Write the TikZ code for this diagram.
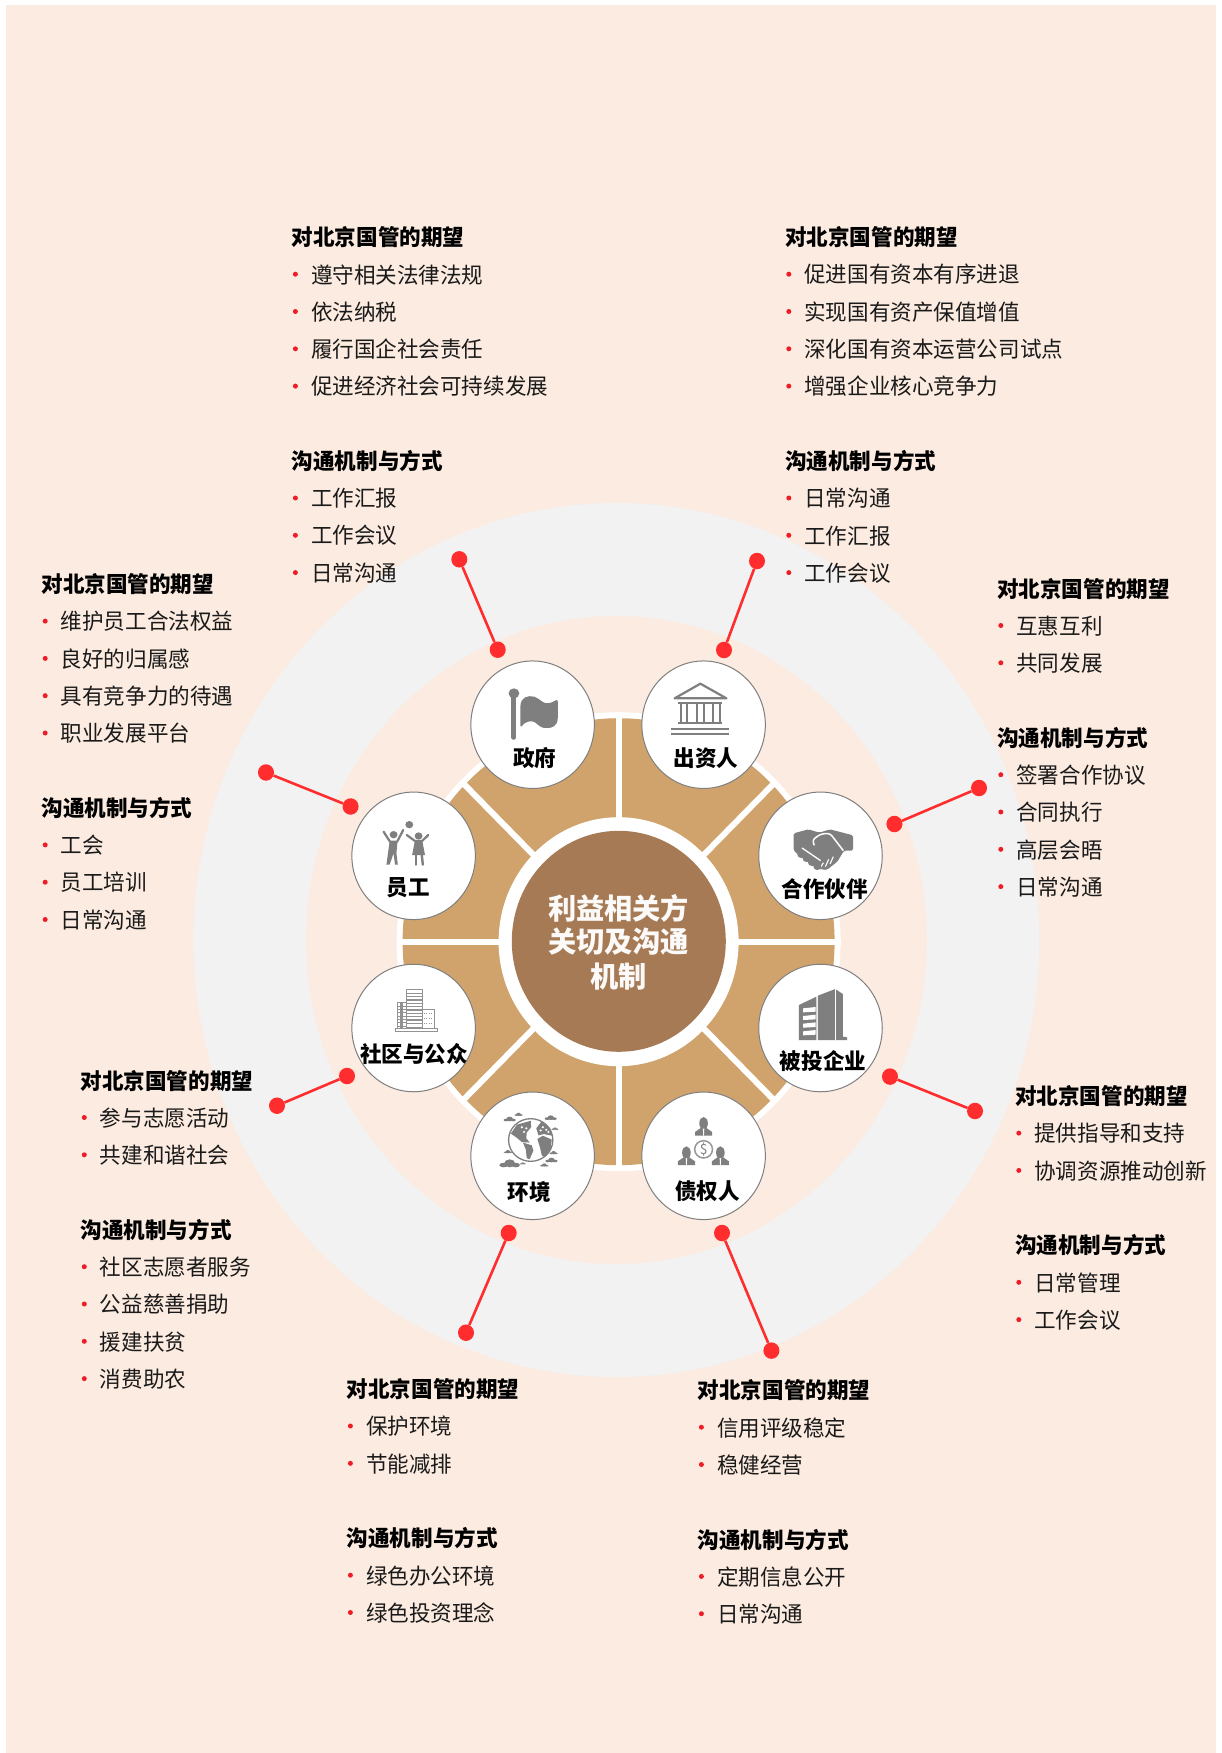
\documentclass[tikz,border=0pt]{standalone}
\usepackage{fontspec}
\setmainfont[FakeStretch=0.98]{Noto Sans CJK SC}
\usetikzlibrary{shapes.geometric}
\definecolor{bgc}{HTML}{FCEBE0}
\definecolor{ringc}{HTML}{F2F2F2}
\definecolor{brownc}{HTML}{A57A55}
\definecolor{tanc}{HTML}{D0A36C}
\definecolor{redc}{HTML}{FF2D2D}
\definecolor{iconc}{HTML}{7F7F7F}
\definecolor{bulc}{HTML}{EE1C25}
\definecolor{itemc}{HTML}{1A1A1A}
\tikzset{
  headtxt/.style={anchor=west,inner sep=0pt,font=\fontsize{22}{24}\selectfont\bfseries,text=black},
  itemtxt/.style={anchor=west,inner sep=0pt,font=\fontsize{22}{24}\selectfont,text=itemc},
  bul/.style={circle,fill=bulc,inner sep=0pt,minimum size=5pt},
  stake/.style={ellipse,draw=iconc,line width=1pt,fill=white,inner sep=0pt,minimum width=123.5pt,minimum height=127.5pt},
  stlabel/.style={inner sep=0pt,font=\fontsize{22}{24}\selectfont\bfseries,text=black},
  pin/.style={ellipse,fill=redc,inner sep=0pt,minimum width=16pt,minimum height=16.5pt},
  lead/.style={draw=redc,line width=2.6pt},
  divider/.style={draw=white,line width=6pt},
  ztop/.style={shift={(330pt,-640pt)},x=.35714pt,y=-.33333pt},
  zbot/.style={shift={(330pt,-930pt)},x=.35714pt,y=-.33333pt},
  ico/.style={fill=iconc,draw=none},
  icol/.style={draw=iconc,line cap=round,line join=round},
}
\newcounter{ln}
\newcommand\setblk[2]{\gdef\bx{#1}\gdef\by{#2}}
\newcommand\advy{\pgfmathparse{\by+37.3}\xdef\by{\pgfmathresult}}
\newcommand\hd[1]{\stepcounter{ln}\node[headtxt] (t\arabic{ln}) at (\bx,\by+0.6) {#1};\advy}
\newcommand\itm[1]{\stepcounter{ln}\node[bul] (b\arabic{ln}) at (\bx+3.8,\by+0.2) {};\node[itemtxt] (t\arabic{ln}) at (\bx+19.2,\by+0.6) {#1};\advy}
\begin{document}
\begin{tikzpicture}[x=1pt,y=-1pt]
\useasboundingbox (0,0) rectangle (1222,1753);
\fill[white] (0,0) rectangle (1222,1753);
\fill[bgc] (6,5.5) rectangle (1216,1753);
% ring
\fill[ringc] (616.4,940) ellipse [x radius=423,y radius=437];
\fill[bgc] (616.4,940) ellipse [x radius=310.5,y radius=324];
% disc
\fill[white] (618.6,941.7) ellipse [x radius=222,y radius=229.5];
\fill[tanc] (618.6,941.7) ellipse [x radius=216,y radius=223.5];
\coordinate (cc) at (618.6,941.7);
\foreach \dx/\dy in {0/-229,0/229,222/0,-222/0,155/-158,-155/-158,155/158,-155/158}
  \draw[divider] (cc) -- ++(\dx,\dy);
\node[ellipse,fill=white,inner sep=0pt,minimum width=240pt,minimum height=249pt] (hub0) at (618.6,941.7) {};
\node[ellipse,fill=brownc,inner sep=0pt,minimum width=214pt,minimum height=221pt] (hub) at (618.8,941.3) {};
\node[inner sep=0pt,font=\fontsize{28.8}{30}\selectfont\bfseries,text=white!96!brownc] (h1) at (618.6,908.5) {利益相关方};
\node[inner sep=0pt,font=\fontsize{28.8}{30}\selectfont\bfseries,text=white!96!brownc] (h2) at (618.6,942) {关切及沟通};
\node[inner sep=0pt,font=\fontsize{28.8}{30}\selectfont\bfseries,text=white!96!brownc] (h3) at (618.6,976.5) {机制};
% pins & leads
\node[pin] (p1a) at (497.7,649.7) {}; \node[pin] (p1b) at (459.3,559.3) {};
\node[pin] (p2a) at (724,650) {};     \node[pin] (p2b) at (757,561) {};
\node[pin] (p3a) at (894.4,824) {};   \node[pin] (p3b) at (979,788) {};
\node[pin] (p4a) at (350.6,806.5) {}; \node[pin] (p4b) at (266,772.5) {};
\node[pin] (p5a) at (347,1076) {};    \node[pin] (p5b) at (277,1105.7) {};
\node[pin] (p6a) at (890,1076.6) {};  \node[pin] (p6b) at (975,1111) {};
\node[pin] (p7a) at (508.7,1233) {};  \node[pin] (p7b) at (466,1332.7) {};
\node[pin] (p8a) at (722,1233) {};    \node[pin] (p8b) at (771.4,1350.6) {};
\foreach \i in {1,...,8} \draw[lead] (p\i a) -- (p\i b);
% stakeholders
\node[stake] (s1) at (532.6,724.7) {};
\node[stake] (s2) at (703.6,724.7) {};
\node[stake] (s3) at (820.5,855.8) {};
\node[stake] (s4) at (413.6,855.8) {};
\node[stake] (s5) at (413.6,1028) {};
\node[stake] (s6) at (820.5,1028) {};
\node[stake] (s7) at (532.6,1155.8) {};
\node[stake] (s8) at (703.6,1155.8) {};
\node[stlabel] (l1) at (534.6,758) {政府};
\node[stlabel] (l2) at (706,758) {出资人};
\node[stlabel] (l3) at (824.6,889) {合作伙伴};
\node[stlabel] (l4) at (408,887.4) {员工};
\node[stlabel] (l5) at (414,1054) {社区与公众};
\node[stlabel] (l6) at (823,1060.7) {被投企业};
\node[stlabel] (l7) at (529.3,1192.4) {环境};
\node[stlabel] (l8) at (707.5,1190.7) {债权人};
% --- icons, traced in crop coordinates
\begin{scope}[ztop]
 % flag
 \draw[icol,line width=5pt] (515,170) -- (515,292);
 \fill[ico] (515,160) ellipse [x radius=15,y radius=15];
 \fill[ico,rounded corners=3pt] (533,190) .. controls (545,165) and (570,165) .. (590,182) .. controls (605,192) and (620,190) .. (638,176)
   -- (638,240) .. controls (630,265) and (600,270) .. (580,252) .. controls (565,240) and (545,245) .. (533,265) -- cycle;
 % temple
 \draw[icol,line width=2.2pt] (965,175) -- (1037,131) -- (1110,175) -- cycle;
 \draw[iconc,line width=2.2pt] (975,188) -- (1098,188);
 \draw[iconc,line width=2.2pt] (975,250) -- (1098,250);
 \draw[iconc,line width=2.2pt] (955,267) -- (1118,267);
 \draw[iconc,line width=2.2pt] (955,282) -- (1118,282);
 \foreach \c in {991,1037,1082} {
   \draw[iconc,line width=2pt] (\c-9,190) -- (\c-9,248);
   \draw[iconc,line width=2pt] (\c+9,190) -- (\c+9,248);
 }
 % people
 \fill[ico] (178,584) ellipse [x radius=11,y radius=11];
 \fill[ico] (222,554) ellipse [x radius=11,y radius=11];
 \fill[ico] (248,588) ellipse [x radius=11,y radius=11];
 \draw[icol,line width=2.2pt] (150,575) -- (168,605) -- (188,605) -- (205,570);
 \fill[ico] (167,603) -- (189,603) -- (186,640) -- (190,674) -- (182,674) -- (178,640) -- (167,674) -- (158,674) -- cycle;
 \draw[icol,line width=2.2pt] (215,585) -- (238,603) -- (258,603) -- (275,585);
 \fill[ico] (238,600) -- (258,600) -- (266,645) -- (230,645) -- cycle;
 \draw[icol,line width=2.4pt] (240,645) -- (240,674);
 \draw[icol,line width=2.4pt] (257,645) -- (260,674);
\end{scope}
% handshake, traced at 3x from (780,820)
\begin{scope}[shift={(780pt,-820pt)},x=.33333pt,y=-.33333pt]
 \fill[ico,rounded corners=1.5pt] (41,40) -- (85,28) -- (118,38) -- (150,28) -- (219,46) -- (219,92) -- (192,92) -- (172,125) -- (140,150) -- (112,146) -- (60,108) -- (41,92) -- cycle;
 \draw[white,line width=1.5pt,rounded corners=3pt] (103,76) -- (97,60) -- (122,42) -- (150,40) -- (190,92);
 \draw[white,line width=1.3pt] (66,84) -- (122,122);
 \draw[white,line width=1.1pt] (130,128) -- (122,142);
 \draw[white,line width=1.1pt] (146,118) -- (136,140);
 \draw[white,line width=1.1pt] (160,110) -- (150,132);
 \foreach \a/\b in {64/104,80/116,96/128,112/140} \fill[ico] (\a,\b) ellipse [x radius=12,y radius=10];
\end{scope}
\begin{scope}[zbot]
 % city blocks
 \fill[white] (190,218) rectangle (292,295);
 \draw[iconc!85,line width=.9pt] (214,178) rectangle (258,292);
 \foreach \y in {190,200,...,285} \draw[iconc!85,line width=1.2pt] (214,\y) -- (258,\y);
 \draw[iconc!85,line width=.9pt] (190,218) rectangle (214,295);
 \foreach \y in {228,238,...,288} \draw[iconc!85,line width=1pt] (190,\y) -- (214,\y);
 \draw[iconc!85,line width=2.2pt] (200,218) -- (200,295);
 \draw[iconc!85,line width=.9pt] (258,238) rectangle (292,295);
 \foreach \y in {250,265,280} \draw[iconc!85,line width=1.5pt,dash pattern=on 1pt off 1.6pt] (262,\y) -- (290,\y);
 \fill[white,draw=iconc!85,line width=.9pt] (182,296) rectangle (300,304);
 % tower
 \fill[ico] (1313,225) -- (1362,200) -- (1362,330) -- (1313,330) -- cycle;
 \foreach \y in {235,258,281,304} \fill[white] (1325,\y) -- (1360,\y-4) -- (1360,\y+10) -- (1325,\y+12) -- cycle;
 \fill[ico] (1366,197) -- (1415,177) -- (1436,192) -- (1436,320) -- (1448,322) -- (1448,330) -- (1366,330) -- cycle;
 \draw[white,line width=.8pt] (1415,178) -- (1415,330);
 % globe
 \begin{scope}[shift={(562,630)},x=22.14pt,y=-21.33pt]
  \draw[iconc,line width=1.3pt] (0,0) circle [radius=1];
  \fill[ico] (-.9,-.3) -- (-.62,-.72) -- (0,-.9) -- (.02,-.6) -- (-.18,-.35) -- (-.2,-.08) -- (-.05,.12) -- (-.4,.1) -- (-.62,-.1) -- cycle;
  \fill[ico] (-.35,.12) -- (.05,.25) -- (.12,.5) -- (-.05,.9) -- (-.18,.85) -- (-.22,.45) -- cycle;
  \fill[ico] (.3,-.05) -- (.55,-.2) -- (.95,-.02) -- (.9,.42) -- (.62,.8) -- (.5,.72) -- (.42,.35) -- cycle;
  \fill[ico] (.25,-.55) -- (.5,-.88) -- (.88,-.55) -- (.97,-.2) -- (.6,-.28) -- (.35,-.22) -- cycle;
  \foreach \a/\b in {-.4/-.6,-.2/-.55,-.3/-.38,.55/-.6,.7/-.48,.45/-.45,.8/-.38}
    \fill[white] (\a,\b) circle [radius=.055];
 \end{scope}
 \foreach \cx/\cy/\s in {503/567/1,618/563/1,528/553/.7,503/700/1.7,620/690/1,600/705/.7,498/665/.7,626/668/.7,540/700/.5,630/596/.6} {
   \fill[ico] (\cx,\cy) ellipse [x radius=9*\s,y radius=7*\s];
   \fill[ico] (\cx-10*\s,\cy+3*\s) ellipse [x radius=7*\s,y radius=4*\s];
   \fill[ico] (\cx+10*\s,\cy+3*\s) ellipse [x radius=7*\s,y radius=4*\s];
 }
 % investors
 \foreach \hx/\hy in {1046/562,998/650,1093/650} {
   \fill[ico] (\hx,\hy+18) ellipse [x radius=12,y radius=19];
   \fill[ico] (\hx-24,\hy+55) -- (\hx-24,\hy+44) -- (\hx-8,\hy+32) -- (\hx+8,\hy+32) -- (\hx+24,\hy+44) -- (\hx+24,\hy+55) -- cycle;
   \fill[white] (\hx-2,\hy+34) -- (\hx+2,\hy+34) -- (\hx+1,\hy+55) -- (\hx-1,\hy+55) -- cycle;
 }
 \fill[white] (1046,658) ellipse [x radius=27,y radius=28];
 \draw[iconc!80,line width=1.5pt] (1046,658) ellipse [x radius=25,y radius=26];
 \node[inner sep=0pt,text=iconc,font=\fontsize{14}{14}\selectfont] (dollar) at (1046,658) {\$};
\end{scope}
% --- text blocks
\setblk{291.6}{236.7}
\hd{对北京国管的期望}\itm{遵守相关法律法规}\itm{依法纳税}\itm{履行国企社会责任}\itm{促进经济社会可持续发展}\advy
\hd{沟通机制与方式}\itm{工作汇报}\itm{工作会议}\itm{日常沟通}
\setblk{785}{236.7}
\hd{对北京国管的期望}\itm{促进国有资本有序进退}\itm{实现国有资产保值增值}\itm{深化国有资本运营公司试点}\itm{增强企业核心竞争力}\advy
\hd{沟通机制与方式}\itm{日常沟通}\itm{工作汇报}\itm{工作会议}
\setblk{41.4}{583.6}
\hd{对北京国管的期望}\itm{维护员工合法权益}\itm{良好的归属感}\itm{具有竞争力的待遇}\itm{职业发展平台}\advy
\hd{沟通机制与方式}\itm{工会}\itm{员工培训}\itm{日常沟通}
\setblk{997}{588}
\hd{对北京国管的期望}\itm{互惠互利}\itm{共同发展}\advy
\hd{沟通机制与方式}\itm{签署合作协议}\itm{合同执行}\itm{高层会晤}\itm{日常沟通}
\setblk{80.5}{1080}
\hd{对北京国管的期望}\itm{参与志愿活动}\itm{共建和谐社会}\advy
\hd{沟通机制与方式}\itm{社区志愿者服务}\itm{公益慈善捐助}\itm{援建扶贫}\itm{消费助农}
\setblk{1015}{1095.6}
\hd{对北京国管的期望}\itm{提供指导和支持}\itm{协调资源推动创新}\advy
\hd{沟通机制与方式}\itm{日常管理}\itm{工作会议}
\setblk{346.6}{1388.5}
\hd{对北京国管的期望}\itm{保护环境}\itm{节能减排}\advy
\hd{沟通机制与方式}\itm{绿色办公环境}\itm{绿色投资理念}
\setblk{697.6}{1389.7}
\hd{对北京国管的期望}\itm{信用评级稳定}\itm{稳健经营}\advy
\hd{沟通机制与方式}\itm{定期信息公开}\itm{日常沟通}
\end{tikzpicture}
\end{document}
